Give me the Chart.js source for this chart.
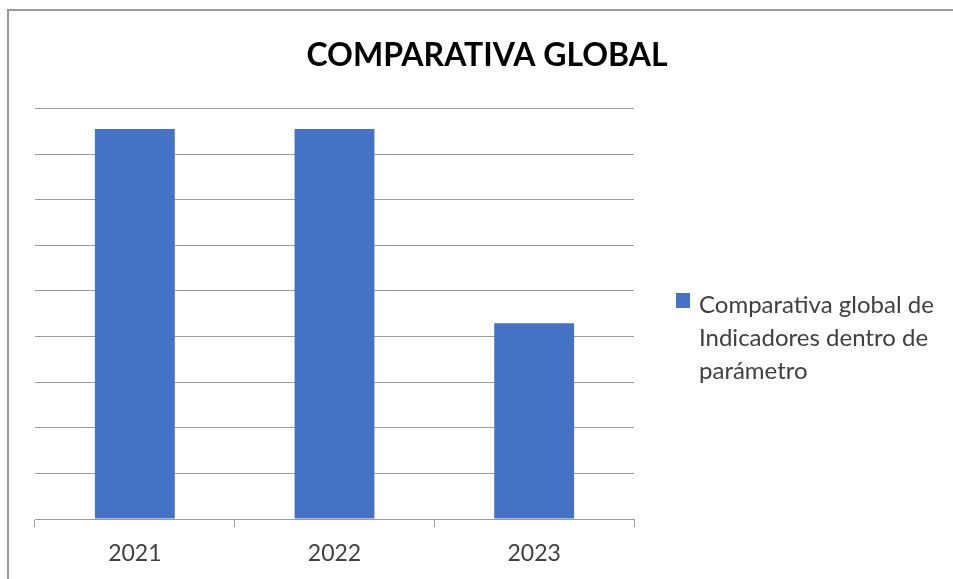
<!DOCTYPE html>
<html>
<head>
<meta charset="utf-8">
<script src="https://cdn.jsdelivr.net/npm/chart.js@4.4.1/dist/chart.umd.min.js"></script>
<style>
  html, body { margin: 0; padding: 0; background: #fff; }
  #wrap { position: relative; width: 953px; height: 579px; overflow: hidden; }
  #frame { position: absolute; left: 7px; top: 9px; right: -5px; bottom: -5px;
           border-top: 2px solid #9a9a9a; border-left: 2px solid #9a9a9a; }
  #chart { position: absolute; left: 0; top: 0; }
  #legend { position: absolute; left: 676px; top: 287px; font-family: Lato, sans-serif;
            font-size: 24px; line-height: 33px; color: #404040; }
  #legend .item { position: relative; padding-left: 23px; width: 255px; }
  #legend .box { position: absolute; left: 0; top: 6px; width: 14px; height: 15px; }
</style>
</head>
<body>
<div id="wrap">
  <div id="frame"></div>
  <canvas id="chart" width="953" height="579"></canvas>
  <div id="legend"></div>
</div>
<script>
var years = ['2021', '2022', '2023'];
var valores = [8.55, 8.55, 4.29];
var serie = 'Comparativa global de Indicadores dentro de parámetro';
var titulo = 'COMPARATIVA GLOBAL';

var azul = '#4472C4';
var gris = '#9c9c9c';

var ctx = document.getElementById('chart').getContext('2d');
var chart = new Chart(ctx, {
  type: 'bar',
  data: {
    labels: years,
    datasets: [{
      label: serie,
      data: valores,
      backgroundColor: azul,
      borderWidth: 0,
      barPercentage: 1,
      categoryPercentage: 0.4
    }]
  },
  options: {
    responsive: false,
    animation: false,
    layout: { padding: { left: 21, right: 0, top: 0, bottom: 0 } },
    plugins: {
      legend: { display: false },
      tooltip: { enabled: false },
      title: {
        display: true,
        text: titulo,
        color: '#000',
        font: { family: 'Lato', size: 32, weight: 'bold', lineHeight: 1.2 },
        padding: { top: 36, bottom: 34 }
      }
    },
    scales: {
      x: {
        afterFit: function (s) { s.height = 60; },
        grid: { drawOnChartArea: false, drawTicks: true, tickLength: 8, color: gris, offset: true },
        border: { display: true, color: gris, width: 1 },
        ticks: { color: '#404040', padding: 13, font: { family: 'Lato', size: 23 } }
      },
      y: {
        min: 0,
        max: 9,
        afterFit: function (s) { s.width = 14; },
        ticks: { display: false, stepSize: 1 },
        grid: { color: gris, drawTicks: false },
        border: { display: false }
      },
      y2: {
        position: 'right',
        afterFit: function (s) { s.width = 319; },
        ticks: { display: false },
        grid: { display: false },
        border: { display: false }
      }
    }
  }
});

// leyenda a la derecha, con el texto partido en lineas como en el original
var leg = document.getElementById('legend');
chart.data.datasets.forEach(function (ds) {
  var item = document.createElement('div');
  item.className = 'item';
  var box = document.createElement('span');
  box.className = 'box';
  box.style.background = ds.backgroundColor;
  item.appendChild(box);
  item.appendChild(document.createTextNode(ds.label));
  leg.appendChild(item);
});
</script>
</body>
</html>
